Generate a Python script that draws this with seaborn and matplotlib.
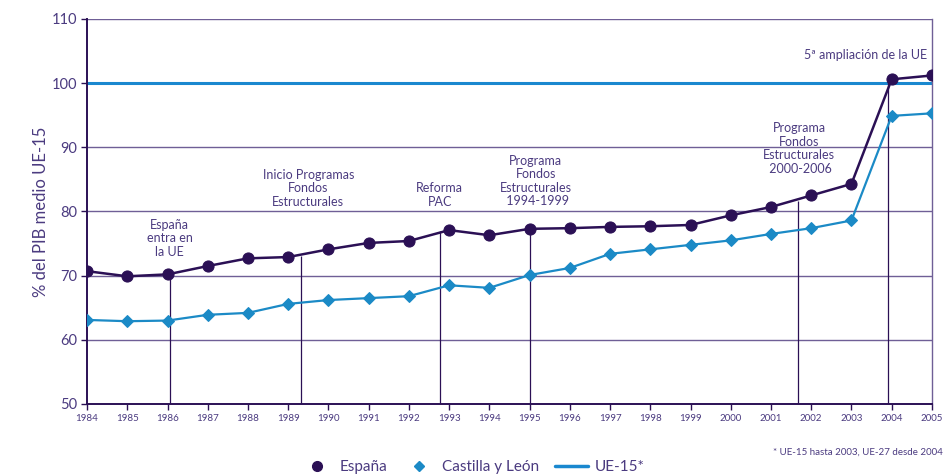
import numpy as np
import pandas as pd
import matplotlib
matplotlib.use("Agg")
import matplotlib.pyplot as plt
from matplotlib.lines import Line2D
import seaborn as sns

years = list(range(1984, 2006))
espana = [70.7, 69.9, 70.2, 71.5, 72.7, 72.9, 74.1, 75.1, 75.4, 77.1, 76.3,
          77.3, 77.4, 77.6, 77.7, 77.9, 79.4, 80.7, 82.5, 84.3, 100.6, 101.2]
castilla = [63.1, 62.9, 63.0, 63.9, 64.2, 65.6, 66.2, 66.5, 66.8, 68.5, 68.1,
            70.1, 71.2, 73.4, 74.1, 74.8, 75.5, 76.5, 77.4, 78.6, 94.9, 95.3]
ue15 = 100

# events: vertical marker lines and their captions
event_x = [1986.05, 1989.33, 1992.77, 1995.0, 2001.67, 2003.92]
event_top = [70.2, 73.1, 77.0, 77.3, 81.6, 100.6]
event_labels = ["España\nentra en\nla UE",
                "Inicio Programas\nFondos\nEstructurales",
                "Reforma\nPAC",
                "Programa\nFondos\nEstructurales\n 1994-1999",
                "Programa\nFondos\nEstructurales\n 2000-2006",
                "5ª ampliación de la UE"]
label_pos = [(1986.05, 72.8), (1989.5, 80.6), (1992.77, 80.6),
             (1995.15, 80.7), (2001.7, 85.7), (2003.36, 103.4)]

df = pd.DataFrame({"year": years, "España": espana, "Castilla y León": castilla})

c_esp = "#2b1055"
c_cyl = "#1b8ac6"
c_ue = "#1a88cf"
c_grid = "#6f5f96"
c_text = "#4b3b80"

sns.set_theme(style="white")
plt.rcParams["font.family"] = ["Lato", "DejaVu Sans"]

fig = plt.figure(figsize=(9.44, 4.75), dpi=100)
ax = fig.add_axes([0.0922, 0.1495, 0.8950, 0.8105])

for v in [60, 70, 80, 90, 110]:
    ax.axhline(v, color=c_grid, lw=1.0, zorder=1)
ax.axhline(ue15, color=c_ue, lw=2.2, zorder=2)

for x, top in zip(event_x, event_top):
    ax.vlines(x, 50, top, color=c_esp, lw=0.9, zorder=2)

sns.lineplot(data=df, x="year", y="Castilla y León", ax=ax, color=c_cyl,
             marker="D", markersize=6, markeredgecolor=c_cyl, lw=1.6, zorder=3)
sns.lineplot(data=df, x="year", y="España", ax=ax, color=c_esp,
             marker="o", markersize=8, markeredgecolor=c_esp, lw=1.8, zorder=4)

for (lx, ly), lab in zip(label_pos, event_labels):
    ax.text(lx, ly, lab, ha="center", va="bottom", fontsize=9,
            color=c_text, linespacing=1.15)

ax.set_xlim(1984, 2005)
ax.set_ylim(50, 110)
ax.set_xticks(years)
ax.set_xticklabels([str(y) for y in years], fontsize=7, color=c_text)
ax.set_yticks([50, 60, 70, 80, 90, 100, 110])
ax.set_yticklabels(["50", "60", "70", "80", "90", "100", "110"], fontsize=10.5, color=c_text)
ax.tick_params(axis="both", length=4, width=1, color=c_esp, direction="out",
               bottom=True, left=True, pad=3)
ax.set_xlabel("")
ax.set_ylabel("% del PIB medio UE-15", fontsize=12, color=c_text, labelpad=2)
for side in ["left", "bottom"]:
    ax.spines[side].set_color(c_esp)
    ax.spines[side].set_linewidth(1.4)
ax.spines["right"].set_color(c_grid)
ax.spines["right"].set_linewidth(1.0)
ax.spines["top"].set_visible(False)

fig.text(0.999, 0.048, "* UE-15 hasta 2003, UE-27 desde 2004", ha="right",
         va="center", fontsize=7, color=c_text)

handles = [Line2D([], [], color=c_esp, marker="o", ls="none", markersize=7),
           Line2D([], [], color=c_cyl, marker="D", ls="none", markersize=5),
           Line2D([], [], color=c_ue, lw=2.5)]
leg = fig.legend(handles, ["España", "Castilla y León", "UE-15*"], loc="center",
                 bbox_to_anchor=(0.5, 0.017), ncol=3, frameon=False, fontsize=11,
                 handlelength=2.2, handletextpad=0.4, columnspacing=1.0,
                 borderpad=0, borderaxespad=0)
for t in leg.get_texts():
    t.set_color(c_text)

fig.savefig("out.png", dpi=100)
